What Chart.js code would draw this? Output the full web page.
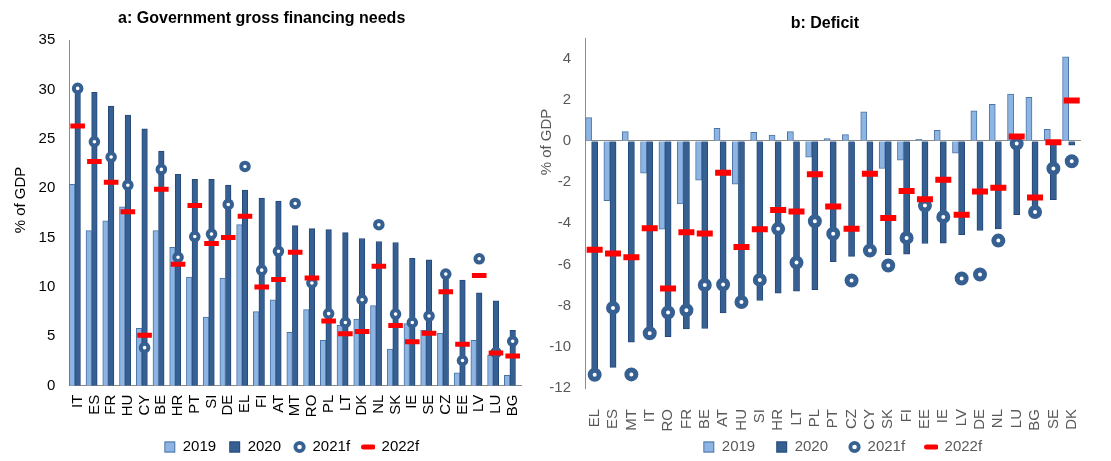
<!DOCTYPE html>
<html>
<head>
<meta charset="utf-8">
<script src="https://cdn.jsdelivr.net/npm/chart.js@4.4.1/dist/chart.umd.min.js"></script>
<style>
  html, body { margin: 0; padding: 0; background: #fff; }
  #wrap { position: relative; width: 1111px; height: 461px; overflow: hidden; }
  canvas { position: absolute; top: 0; }
  #chartA { left: 0; }
  #chartB { left: 540px; }
</style>
</head>
<body>
<div id="wrap">
  <canvas id="chartA" width="540" height="461"></canvas>
  <canvas id="chartB" width="571" height="461"></canvas>
</div>
<script>
// panel a: government gross financing needs, % of GDP
const catA = ['IT','ES','FR','HU','CY','BE','HR','PT','SI','DE','EL','FI','AT','MT','RO','PL','LT','DK','NL','SK','IE','SE','CZ','EE','LV','LU','BG'];
const gfn2019 = [20.4,15.7,16.7,18.1,5.8,15.7,14.0,11.0,6.95,10.9,16.3,7.5,8.7,5.4,7.7,4.6,6.1,6.75,8.1,3.7,6.3,5.6,5.3,1.3,4.6,3.1,1.05];
const gfn2020 = [30.2,29.7,28.3,27.4,26.0,23.75,21.4,20.9,20.9,20.3,19.8,19.0,18.7,16.2,15.9,15.8,15.5,14.9,14.6,14.5,12.9,12.75,11.6,10.7,9.4,8.6,5.6];
const gfn2021 = [30.1,24.7,23.15,20.3,3.85,21.9,13.0,15.1,15.35,18.35,22.2,11.7,13.6,18.45,10.4,7.3,6.4,8.7,16.3,7.25,6.4,7.05,11.3,2.55,12.85,3.35,4.5];
const gfn2022 = [26.3,22.7,20.6,17.6,5.1,19.9,12.3,18.25,14.4,15.0,17.15,10.0,10.75,13.5,10.9,6.55,5.25,5.5,12.1,6.1,4.45,5.3,9.5,4.2,11.15,3.3,3.0];

// panel b: deficit, % of GDP
const catB = ['EL','ES','MT','IT','RO','FR','BE','AT','HU','SI','HR','LT','PL','PT','CZ','CY','SK','FI','EE','IE','LV','DE','NL','LU','BG','SE','DK'];
const def2019 = [1.13,-2.9,0.45,-1.57,-4.29,-3.06,-1.91,0.61,-2.1,0.42,0.28,0.45,-0.79,0.11,0.31,1.42,-1.34,-0.94,0.08,0.52,-0.6,1.46,1.78,2.28,2.12,0.57,4.08];
const def2020 = [-11.3,-11.0,-9.77,-9.55,-9.51,-9.13,-9.11,-8.35,-8.1,-7.75,-7.39,-7.3,-7.23,-5.87,-5.61,-5.57,-5.53,-5.5,-4.98,-4.97,-4.55,-4.35,-4.27,-3.58,-3.4,-2.85,-0.21];
const def2021 = [-11.36,-8.11,-11.34,-9.34,-8.33,-8.22,-7.0,-6.97,-7.82,-6.75,-4.27,-5.91,-3.9,-4.51,-6.78,-5.32,-6.05,-4.71,-3.14,-3.69,-6.68,-6.49,-4.84,-0.13,-3.45,-1.34,-0.99];
const def2022 = [-5.28,-5.47,-5.65,-4.24,-7.17,-4.43,-4.5,-1.55,-5.15,-4.29,-3.35,-3.43,-1.62,-3.19,-4.26,-1.59,-3.74,-2.43,-2.83,-1.89,-3.58,-2.46,-2.27,0.21,-2.75,-0.06,1.97];

const LIGHT = '#8db4e2';
const LIGHT_EDGE = '#4a74a6';
const DARK = '#366092';
const DARK_EDGE = '#24487a';
const RED = '#ff0000';
const AXIS = '#8c8c8c';
const GREY_TEXT = '#595959';
const FONT = "'Liberation Sans', Arial, sans-serif";

Chart.defaults.font.family = FONT;
Chart.defaults.animation = false;

// little legend icons
function icon(draw) {
  const c = document.createElement('canvas');
  c.width = 14; c.height = 14;
  draw(c.getContext('2d'));
  return c;
}
const icons = {
  light: icon(g => { g.fillStyle = LIGHT; g.fillRect(2, 1.5, 11, 11); g.strokeStyle = LIGHT_EDGE; g.strokeRect(2.5, 2, 10, 10); }),
  dark: icon(g => { g.fillStyle = DARK; g.fillRect(2, 1.5, 11, 11); g.strokeStyle = DARK_EDGE; g.strokeRect(2.5, 2, 10, 10); }),
  ring: icon(g => { g.beginPath(); g.arc(7.5, 7, 4.2, 0, Math.PI * 2); g.fillStyle = '#fff'; g.fill(); g.lineWidth = 3.8; g.strokeStyle = DARK; g.stroke(); }),
  dash: icon(g => { g.beginPath(); g.moveTo(2.5, 7); g.lineTo(12, 7); g.lineCap = 'round'; g.lineWidth = 5; g.strokeStyle = RED; g.stroke(); })
};

function legendLabels(color) {
  return () => [
    { text: '2019', pointStyle: icons.light, fontColor: color, lineWidth: 0, hidden: false, datasetIndex: 2 },
    { text: '2020', pointStyle: icons.dark, fontColor: color, lineWidth: 0, hidden: false, datasetIndex: 3 },
    { text: '2021f', pointStyle: icons.ring, fontColor: color, lineWidth: 0, hidden: false, datasetIndex: 1 },
    { text: '2022f', pointStyle: icons.dash, fontColor: color, lineWidth: 0, hidden: false, datasetIndex: 0 }
  ];
}

// layout touch-ups: legend placement, unclipped x labels, rotated "% of GDP"
const tweaks = {
  id: 'tweaks',
  afterLayout(chart, args, opts) {
    chart.scales.x.bottom = chart.height;
    const lg = chart.legend;
    const dy = opts.legendY - (lg.top + lg.options.labels.padding + 7.5);
    lg.top += dy;
    lg.bottom += dy;
    lg.left += opts.legendDx;
    lg.right += opts.legendDx;
  },
  afterDraw(chart, args, opts) {
    const ctx = chart.ctx;
    ctx.save();
    ctx.font = '15px ' + FONT;
    ctx.fillStyle = opts.color;
    ctx.textAlign = 'center';
    ctx.textBaseline = 'middle';
    ctx.translate(opts.x, opts.y);
    ctx.rotate(-Math.PI / 2);
    ctx.fillText(opts.text, 0, 0);
    ctx.restore();
  }
};

function makeDatasets(v19, v20, v21, v22, ring, dash) {
  return [
    { type: 'line', label: '2022f', data: v22, showLine: false, pointStyle: 'line',
      pointRadius: dash.r, pointHoverRadius: dash.r, pointBorderColor: RED, pointBorderWidth: dash.w,
      pointHoverBorderWidth: dash.w, borderColor: RED, order: 0 },
    { type: 'line', label: '2021f', data: v21, showLine: false, pointStyle: 'circle',
      pointRadius: ring.r, pointHoverRadius: ring.r, pointBackgroundColor: '#fff', pointBorderColor: DARK,
      pointBorderWidth: ring.w, pointHoverBorderWidth: ring.w, borderColor: DARK, order: 1 },
    { type: 'bar', label: '2019', data: v19, backgroundColor: LIGHT, borderColor: LIGHT_EDGE, borderWidth: 1, order: 2 },
    { type: 'bar', label: '2020', data: v20, backgroundColor: DARK, borderColor: DARK_EDGE, borderWidth: 1, order: 2 },
    // empty slot so the 2020 bar sits on the category centre like in the original
    { type: 'bar', label: '', data: [], order: 2 }
  ];
}

// ---- panel a
new Chart(document.getElementById('chartA'), {
  type: 'bar',
  data: { labels: catA, datasets: makeDatasets(gfn2019, gfn2020, gfn2021, gfn2022, { r: 3.8, w: 4 }, { r: 7.3, w: 5 }) },
  options: {
    responsive: false,
    events: [],
    categoryPercentage: 1,
    barPercentage: 1,
    layout: { padding: { left: 0, right: 16.6, top: 0, bottom: 0 } },
    plugins: {
      tooltip: { enabled: false },
      title: { display: true, text: 'a: Government gross financing needs', color: '#000',
        font: { size: 16, weight: 'bold' }, padding: { top: 9, bottom: 11.8 } },
      legend: { position: 'bottom', fullSize: false,
        labels: { usePointStyle: true, boxWidth: 12, boxHeight: 12, padding: 12,
          color: '#000', font: { size: 15 }, generateLabels: legendLabels('#000') } },
      tweaks: { text: '% of GDP', x: 21, y: 200, color: '#000', legendY: 447, legendDx: -4 }
    },
    scales: {
      x: {
        grid: { display: false, drawTicks: false },
        border: { display: true, color: AXIS },
        ticks: { autoSkip: false, maxRotation: 90, minRotation: 90, padding: 9, color: '#000', font: { size: 15 } },
        afterFit: s => { s.height = 38.3; }
      },
      y: {
        min: 0, max: 35,
        grid: { display: false, drawTicks: false },
        border: { display: true, color: AXIS },
        ticks: { stepSize: 5, padding: 14, color: '#000', font: { size: 15 } },
        afterFit: s => { s.width = 69.3; }
      }
    }
  },
  plugins: [tweaks]
});

// ---- panel b
new Chart(document.getElementById('chartB'), {
  type: 'bar',
  data: { labels: catB, datasets: makeDatasets(def2019, def2020, def2021, def2022, { r: 4.5, w: 5 }, { r: 8, w: 6 }) },
  options: {
    responsive: false,
    events: [],
    categoryPercentage: 1,
    barPercentage: 1,
    layout: { padding: { left: 0, right: 1.3, top: 0, bottom: 0 } },
    plugins: {
      tooltip: { enabled: false },
      title: { display: true, text: 'b: Deficit', color: '#000',
        font: { size: 16, weight: 'bold' }, padding: { top: 14, bottom: 4.8 } },
      legend: { position: 'bottom', fullSize: false,
        labels: { usePointStyle: true, boxWidth: 12, boxHeight: 12, padding: 20,
          color: GREY_TEXT, font: { size: 15 }, generateLabels: legendLabels(GREY_TEXT) } },
      tweaks: { text: '% of GDP', x: 7, y: 142, color: GREY_TEXT, legendY: 447, legendDx: 9 }
    },
    scales: {
      x: {
        grid: { display: false, drawTicks: false },
        border: { display: false },
        ticks: { autoSkip: false, maxRotation: 90, minRotation: 90, padding: 21, color: GREY_TEXT, font: { size: 15 } },
        afterFit: s => { s.height = 28; }
      },
      y: {
        min: -12, max: 5,
        grid: { drawTicks: false, color: c => (c.tick && c.tick.value === 0 ? AXIS : 'rgba(0,0,0,0)') },
        border: { display: true, color: AXIS },
        ticks: { stepSize: 2, padding: 14.5, color: GREY_TEXT, font: { size: 15 } },
        afterBuildTicks: s => { s.ticks = s.ticks.filter(t => t.value % 2 === 0); },
        afterFit: s => { s.width = 45.5; }
      }
    }
  },
  plugins: [tweaks]
});
</script>
</body>
</html>
